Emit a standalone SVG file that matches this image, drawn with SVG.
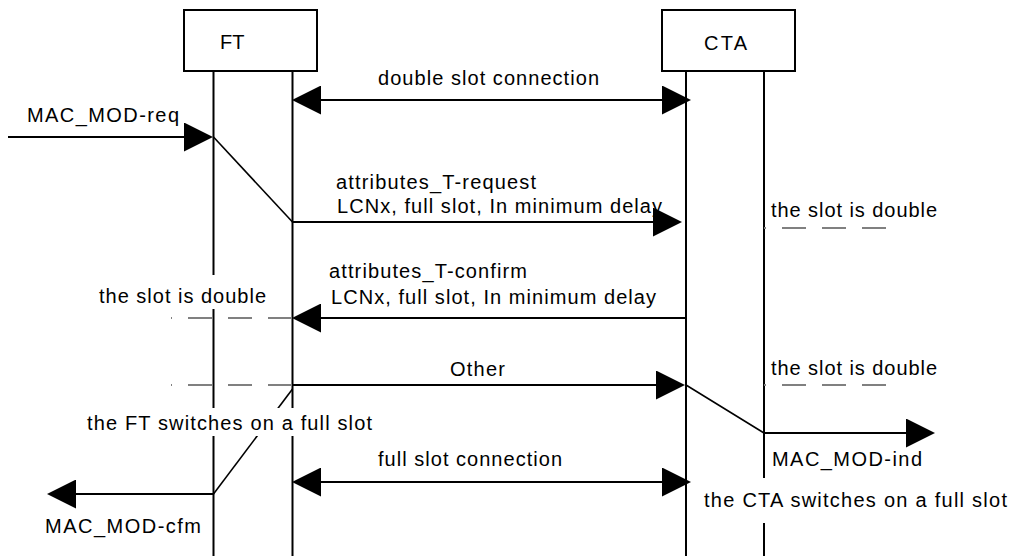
<svg xmlns="http://www.w3.org/2000/svg" width="1009" height="556" viewBox="0 0 1009 556">
<style>
text{font-family:"Liberation Sans",Arial,sans-serif;font-size:20px;fill:#000}
.box{fill:#fff;stroke:#000;stroke-width:2}
.life{stroke:#000;stroke-width:2;fill:none}
.msg{stroke:#000;stroke-width:2;fill:none}
.diag{stroke:#000;stroke-width:1.6;fill:none}
.dash{stroke:#808080;stroke-width:2;fill:none;stroke-dasharray:24 16}
.mask{fill:#fff;stroke:none}
</style>
<defs>
<marker id="ah" viewBox="0 0 29 29" markerWidth="29" markerHeight="29" markerUnits="userSpaceOnUse" refX="14" refY="14.5" orient="auto-start-reverse">
<path d="M0,0 L29,14.5 L0,29 Z" fill="#000"/>
</marker>
</defs>
<rect width="1009" height="556" fill="#fff"/>
<g id="FT">
<rect class="box" x="184" y="10" width="133" height="61"/>
<text x="220" y="49">FT</text>
<line class="life" x1="213.5" y1="71" x2="213.5" y2="556"/>
<line class="life" x1="292.5" y1="71" x2="292.5" y2="556"/>
</g>
<g id="CTA">
<rect class="box" x="662" y="10" width="133" height="61"/>
<text x="704" y="50" textLength="43" lengthAdjust="spacing">CTA</text>
<line class="life" x1="686" y1="71" x2="686" y2="556"/>
<line class="life" x1="764" y1="71" x2="764" y2="556"/>
</g>
<g id="labels-under">
<text x="337" y="213" textLength="325" lengthAdjust="spacing">LCNx, full slot, In minimum delay</text>
</g>
<g id="connectors">
<line class="msg" x1="307" y1="100" x2="676" y2="100" marker-start="url(#ah)" marker-end="url(#ah)"/>
<line class="msg" x1="8" y1="137" x2="198" y2="137" marker-end="url(#ah)"/>
<line class="diag" x1="213.5" y1="137" x2="292.5" y2="222"/>
<line class="msg" x1="292" y1="222" x2="667" y2="222" marker-end="url(#ah)"/>
<line class="msg" x1="686" y1="318" x2="307" y2="318" marker-end="url(#ah)"/>
<line class="dash" x1="171" y1="318" x2="292" y2="318" stroke-dashoffset="23"/>
<line class="dash" x1="764" y1="228" x2="886" y2="228" stroke-dashoffset="22"/>
<line class="dash" x1="171" y1="385" x2="292" y2="385" stroke-dashoffset="23"/>
<line class="msg" x1="292" y1="385" x2="670" y2="385" marker-end="url(#ah)"/>
<line class="dash" x1="764" y1="385" x2="886" y2="385" stroke-dashoffset="22"/>
<line class="diag" x1="686" y1="385" x2="764" y2="433"/>
<line class="msg" x1="764" y1="433" x2="920" y2="433" marker-end="url(#ah)"/>
<line class="diag" x1="292.5" y1="389" x2="213.5" y2="494"/>
<line class="msg" x1="307" y1="482" x2="676" y2="482" marker-start="url(#ah)" marker-end="url(#ah)"/>
<line class="msg" x1="213.5" y1="494" x2="62" y2="494" marker-end="url(#ah)"/>
</g>
<g id="labels">
<text x="378" y="85" textLength="221" lengthAdjust="spacing">double slot connection</text>
<text x="27" y="122" textLength="152" lengthAdjust="spacing">MAC_MOD-req</text>
<text x="336" y="189" textLength="200" lengthAdjust="spacing">attributes_T-request</text>
<text x="771" y="217" textLength="166" lengthAdjust="spacing">the slot is double</text>
<text x="329" y="278" textLength="198" lengthAdjust="spacing">attributes_T-confirm</text>
<text x="331" y="304" textLength="325" lengthAdjust="spacing">LCNx, full slot, In minimum delay</text>
<rect class="mask" x="97" y="275" width="171" height="34"/>
<text x="99" y="303" textLength="167" lengthAdjust="spacing">the slot is double</text>
<text x="450" y="376" textLength="55" lengthAdjust="spacing">Other</text>
<text x="771" y="375" textLength="166" lengthAdjust="spacing">the slot is double</text>
<rect class="mask" x="85" y="408" width="289" height="28"/>
<text x="87" y="430" textLength="285" lengthAdjust="spacing">the FT switches on a full slot</text>
<text x="378" y="466" textLength="184" lengthAdjust="spacing">full slot connection</text>
<text x="772" y="466" textLength="150" lengthAdjust="spacing">MAC_MOD-ind</text>
<rect class="mask" x="702" y="478" width="307" height="45"/>
<text x="704" y="507" textLength="303" lengthAdjust="spacing">the CTA switches on a full slot</text>
<text x="45" y="533" textLength="156" lengthAdjust="spacing">MAC_MOD-cfm</text>
</g>
</svg>
